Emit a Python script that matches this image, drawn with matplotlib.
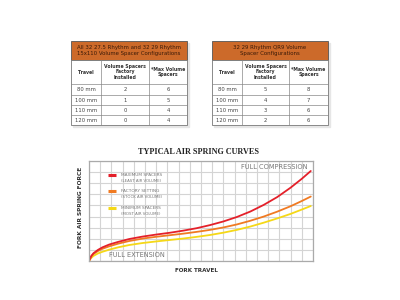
import numpy as np
import matplotlib
matplotlib.use('Agg')
import matplotlib.pyplot as plt
from matplotlib.patches import Rectangle

# ---------------- data ----------------
travel = ['80 mm', '100 mm', '110 mm', '120 mm']

left_title = 'All 32 27.5 Rhythm and 32 29 Rhythm\n15x110 Volume Spacer Configurations'
left_factory = [2, 1, 0, 0]
left_max = [6, 5, 4, 4]

right_title = '32 29 Rhythm QR9 Volume\nSpacer Configurations'
right_factory = [5, 4, 3, 2]
right_max = [8, 7, 6, 6]

col_heads = ['Travel', 'Volume Spacers\nFactory\nInstalled', '*Max Volume\nSpacers']

# spring curves: % of travel vs relative force
pct = [0, 1, 2, 4, 6, 9, 13, 18, 24, 30, 36, 42, 48, 54, 60, 66, 72, 78, 84, 90, 95, 99]
max_force = [0, 4.5, 7, 10, 12.3, 14.8, 17.2, 19.8, 22, 23.8, 25.4, 27.3, 29.5, 32.3,
             35.6, 39.6, 44.5, 50.5, 57.5, 66, 74, 81]
factory_force = [0, 4, 6.3, 9, 11, 13.2, 15.6, 18, 20.2, 21.8, 23.2, 24.6, 26.2, 28,
                 30.2, 32.9, 36.2, 40, 44.4, 49.3, 54, 58]
min_force = [0, 2.8, 4.6, 6.8, 8.3, 10.2, 12.3, 14.4, 16.2, 17.6, 18.9, 20.2, 21.7, 23.4,
             25.5, 28, 31, 34.5, 38.3, 42.4, 46.3, 49.5]

legend_labels = [('MAXIMUM SPACERS', '(LEAST AIR VOLUME)'),
                 ('FACTORY SETTING', '(STOCK AIR VOLUME)'),
                 ('MINIMUM SPACERS', '(MOST AIR VOLUME)')]
colors = ['#e4202a', '#f07a22', '#f5d817']

# ---------------- figure ----------------
fig = plt.figure(figsize=(4, 3), dpi=100)
fig.patch.set_facecolor('white')

# overlay in pixel coords for the tables
bg = fig.add_axes([0, 0, 1, 1])
bg.set_xlim(0, 400)
bg.set_ylim(300, 0)
bg.axis('off')

def draw_table(x0, widths, title, factory, mx):
    y_head, y_cols = 41, 60
    y_rows = [84, 95, 105, 115, 125]
    w = sum(widths)
    bg.add_patch(Rectangle((x0 + 1.5, y_head + 1.5), w, y_rows[-1] - y_head, color='#e6e6e6', zorder=1))
    bg.add_patch(Rectangle((x0, y_head), w, y_cols - y_head, facecolor='#cc6a2a',
                           edgecolor='#555555', lw=0.6, zorder=2))
    bg.add_patch(Rectangle((x0, y_cols), w, y_rows[-1] - y_cols, facecolor='white',
                           edgecolor='#777777', lw=0.6, zorder=2))
    bg.text(x0 + w / 2, (y_head + y_cols) / 2, title, ha='center', va='center',
            fontsize=3.9, color='#3a1a08', linespacing=1.15, zorder=3)
    xs = np.cumsum([x0] + widths)
    for xv in xs[1:-1]:
        bg.plot([xv, xv], [y_cols, y_rows[-1]], color='#888888', lw=0.5, zorder=3)
    for yv in y_rows[:-1]:
        bg.plot([x0, x0 + w], [yv, yv], color='#888888', lw=0.5, zorder=3)
    centers = (xs[:-1] + xs[1:]) / 2
    for c, h in zip(centers, col_heads):
        bg.text(c, (y_cols + y_rows[0]) / 2, h, ha='center', va='center', fontsize=3.3,
                fontweight='bold', color='#333333', linespacing=1.15, zorder=3)
    for i in range(len(travel)):
        yc = (y_rows[i] + y_rows[i + 1]) / 2
        for c, v in zip(centers, [travel[i], factory[i], mx[i]]):
            bg.text(c, yc, str(v), ha='center', va='center', fontsize=3.8,
                    color='#444444', zorder=3)

draw_table(71, [30, 48, 38], left_title, left_factory, left_max)
draw_table(212, [30, 47, 39], right_title, right_factory, right_max)

# ---------------- spring curve chart ----------------
ax = fig.add_axes([89 / 400, 1 - 261 / 300, 224 / 400, 100 / 300])
ax.set_xlim(0, 100)
ax.set_ylim(0, 90)
ax.set_xticks(np.arange(0, 101, 5))
ax.set_yticks(np.arange(0, 91, 10))
ax.tick_params(length=0, labelbottom=False, labelleft=False)
ax.grid(True, color='#d4d4d4', lw=0.8)
for s in ax.spines.values():
    s.set_color('#aaaaaa')
    s.set_linewidth(0.9)

ax.plot(pct, min_force, color=colors[2], lw=1.3, solid_capstyle='round', solid_joinstyle='round')
ax.plot(pct, factory_force, color=colors[1], lw=1.3, solid_capstyle='round', solid_joinstyle='round')
ax.plot(pct, max_force, color=colors[0], lw=1.3, solid_capstyle='round', solid_joinstyle='round')

# legend drawn inside the plot
for i, (lab, sub) in enumerate(legend_labels):
    yl = 77.4 - i * 14.8
    ax.plot([8.5, 12], [yl, yl], color=colors[i], lw=2.2, solid_capstyle='butt')
    ax.text(14.3, yl, lab, fontsize=3.1, color='#777777', va='center')
    ax.text(14.3, yl - 5.4, sub, fontsize=2.8, color='#777777', va='center')

ax.text(97.5, 85, 'FULL COMPRESSION', fontsize=4.8, color='#777777', ha='right', va='center')
ax.text(9, 5.5, 'FULL EXTENSION', fontsize=4.8, color='#777777', ha='left', va='center')

fig.text(199 / 400, 1 - 152 / 300, 'TYPICAL AIR SPRING CURVES', ha='center', va='center',
         fontsize=5.9, fontweight='bold', family='Liberation Serif', color='#222222')
fig.text(81 / 400, 1 - 207 / 300, 'FORK AIR SPRING FORCE', ha='center', va='center',
         rotation=90, fontsize=4.2, fontweight='bold', color='#333333')
fig.text(196 / 400, 1 - 271 / 300, 'FORK TRAVEL', ha='center', va='center',
         fontsize=4.1, fontweight='bold', color='#333333')

fig.savefig('out.png', dpi=100, facecolor='white')
